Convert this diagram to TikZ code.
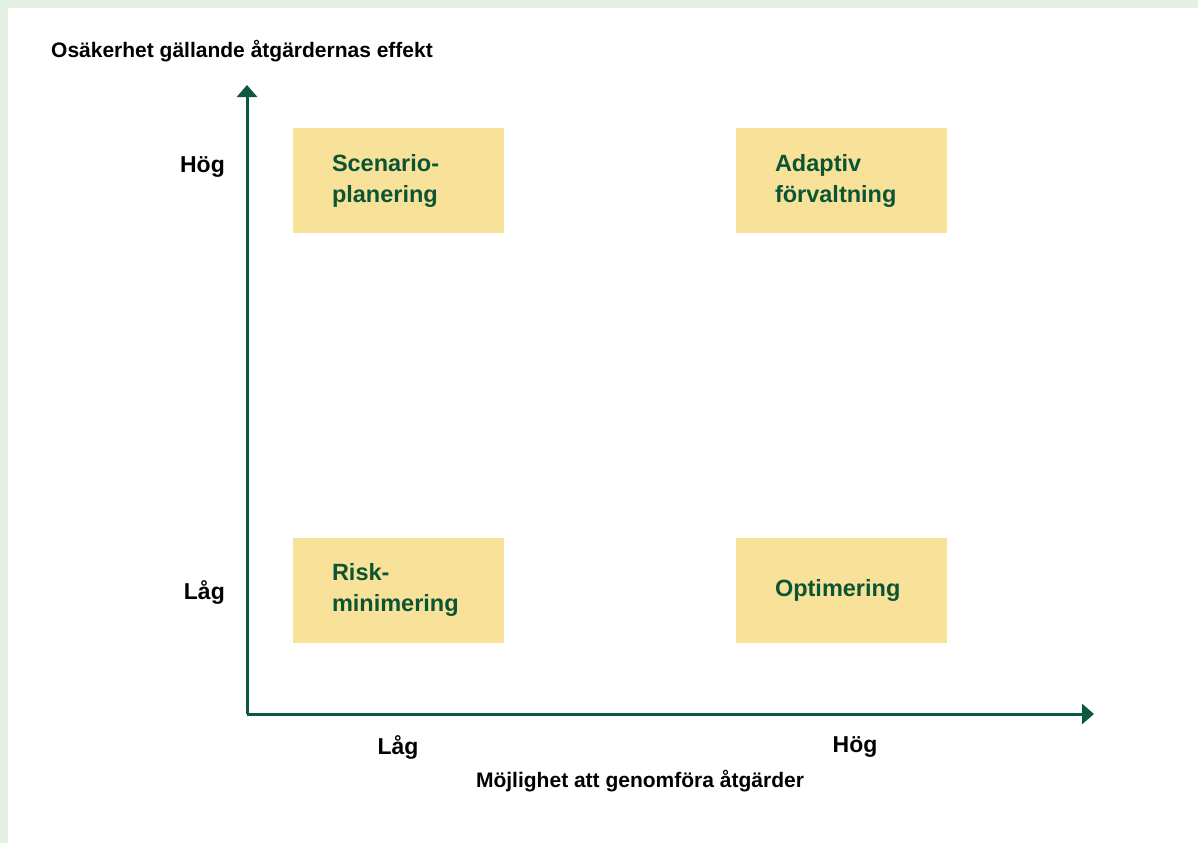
\documentclass[tikz,border=0pt]{standalone}
\usepackage{fontspec}
\setmainfont{Liberation Sans}
\usetikzlibrary{arrows.meta}
\definecolor{framegreen}{HTML}{E3F0E3}
\definecolor{axisgreen}{HTML}{0B5A3B}
\definecolor{textgreen}{HTML}{0B5434}
\definecolor{boxyellow}{HTML}{F8E29A}
\tikzset{
    quadrant/.style={fill=boxyellow, minimum width=211pt, minimum height=105pt,
        text width=133pt, inner xsep=39pt, inner ysep=0pt, align=left,
        text=textgreen, font=\fontsize{23.5}{31}\selectfont\bfseries},
    axislabel/.style={font=\fontsize{23}{26}\selectfont\bfseries, inner sep=0pt},
    axistitle/.style={font=\fontsize{21}{24}\selectfont\bfseries, inner sep=0pt}
}
\begin{document}
\begin{tikzpicture}[x=1pt, y=-1pt, >={Triangle[width=20pt,length=12pt]}]

    % Frame and background
    \fill[framegreen] (0,0) rectangle (1198,843);
    \fill[white] (8,8) rectangle (1198,843);
    \useasboundingbox (0,0) rectangle (1198,843);

    % Axes
    \coordinate (origin) at (247,714);
    \coordinate (ytip) at (247,85);
    \coordinate (xtip) at (1094,714);
    \draw[->, axisgreen, line width=3pt] (origin) -- (ytip);
    \draw[->, axisgreen, line width=3pt] (origin) -- (xtip);

    % Axis titles
    \node[axistitle, anchor=west] (ytitle) at (51,51) {Osäkerhet gällande åtgärdernas effekt};
    \node[axistitle] (xtitle) at (640,781) {Möjlighet att genomföra åtgärder};

    % Levels on the axes
    \node[axislabel, anchor=east] (yhigh) at (225,167) {Hög};
    \node[axislabel, anchor=east] (ylow) at (225,592) {Låg};
    \node[axislabel] (xlow) at (398,747) {Låg};
    \node[axislabel] (xhigh) at (855,747) {Hög};

    % Quadrants
    \node[quadrant] (scenario) at (398.5,180.5) {Scenario-\\planering};
    \node[quadrant] (adaptiv) at (841.5,180.5) {Adaptiv\\förvaltning};
    \node[quadrant] (risk) at (398.5,590) {Risk-\\minimering};
    \node[quadrant] (optimering) at (841.5,590) {Optimering};

\end{tikzpicture}
\end{document}
